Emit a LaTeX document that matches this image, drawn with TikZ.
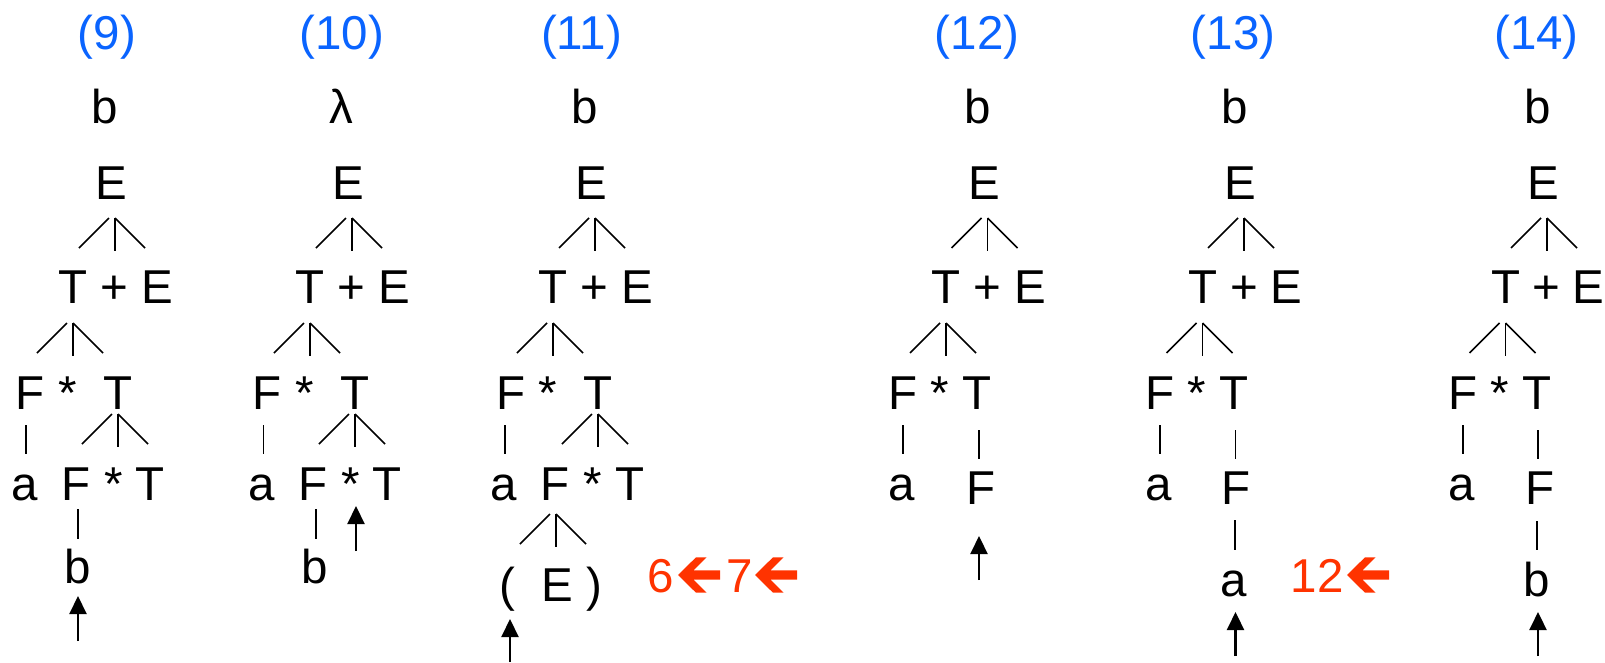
\documentclass[tikz,border=0pt]{standalone}
\usepackage{fontspec}
\setmainfont{Liberation Sans}
\usetikzlibrary{arrows.meta,calc}
\definecolor{lblblue}{RGB}{10,100,255}
\definecolor{hotred}{RGB}{255,51,0}
\tikzset{
  sym/.style={font=\fontsize{47.5}{50}\selectfont, inner sep=0pt, outer sep=0pt, anchor=base},
  lbl/.style={sym, text=lblblue},
  rd/.style={sym, text=hotred},
  edge/.style={line width=1.6pt},
  ptr/.style={line width=2.2pt, -{Triangle[width=17pt,length=18pt]}},
}
\newcommand\fanlines[3]{%
  \draw[edge] ($(#1.base)+(#2-6,#3)$) -- ++(-30,30);
  \draw[edge] ($(#1.base)+(#2,#3)$) -- ++(0,33);
  \draw[edge] ($(#1.base)+(#2,#3)$) -- ++(30,30);
}
\newcommand\stem[4]{%
  \draw[edge] ($(#1.base)+(#2,#3)$) -- ++(0,#4);
}
\newcommand\redarrow[1]{%
  \fill[hotred] (#1) -- ++(18,-17.7) -- ++(10.5,0) -- ++(-13.1,13.1) -- ++(26.6,0)
    -- ++(0,9.2) -- ++(-26.6,0) -- ++(13.1,13.1) -- ++(-10.5,0) -- cycle;
}
\begin{document}
\begin{tikzpicture}[x=1pt,y=-1pt]
\fill[white] (0,0) rectangle (1605,662);
\useasboundingbox (0,0) rectangle (1605,662);

% ---------- tree 9
\node[lbl] (l9) at (107,49) {(9)};
\node[sym] (in9) at (105,123) {b};
\node[sym] (e9) at (111,199) {E};
\node[sym] (t9) at (73,303) {T};
\node[sym] (p9) at (114,303) {+};
\node[sym] (ee9) at (157,303) {E};
\node[sym] (f9) at (30.5,409) {F};
\node[sym] (s9) at (68,409) {*};
\node[sym] (tt9) at (118,409) {T};
\node[sym] (a9) at (24.5,500) {a};
\node[sym] (ff9) at (76,500) {F};
\node[sym] (ss9) at (114,500) {*};
\node[sym] (ttt9) at (150,500) {T};
\node[sym] (b9) at (77.5,583) {b};
\fanlines{e9}{4}{19}
\fanlines{t9}{0}{20}
\fanlines{tt9}{0}{5}
\stem{f9}{-4.5}{16}{29}
\stem{ff9}{2}{9}{30}
\coordinate (q9) at (78,641);
\coordinate (r9) at (78,596);
\draw[ptr] (q9) -- (r9);

% ---------- tree 10
\node[lbl] (l10) at (342,49) {(10)};
\node[sym] (in10) at (341,123) {λ};
\node[sym] (e10) at (348,199) {E};
\node[sym] (t10) at (310,303) {T};
\node[sym] (p10) at (351,303) {+};
\node[sym] (ee10) at (394,303) {E};
\node[sym] (f10) at (267.5,409) {F};
\node[sym] (s10) at (305,409) {*};
\node[sym] (tt10) at (355,409) {T};
\node[sym] (a10) at (261.5,500) {a};
\node[sym] (ff10) at (313,500) {F};
\node[sym] (ss10) at (351,500) {*};
\node[sym] (ttt10) at (387,500) {T};
\node[sym] (b10) at (314.5,583) {b};
\fanlines{e10}{4}{19}
\fanlines{t10}{0}{20}
\fanlines{tt10}{0}{5}
\stem{f10}{-4.2}{16}{29}
\stem{ff10}{2.7}{9}{30}
\coordinate (q10) at (356,551);
\coordinate (r10) at (356,506);
\draw[ptr] (q10) -- (r10);

% ---------- tree 11
\node[lbl] (l11) at (581.5,49) {(11)};
\node[sym] (in11) at (585,123) {b};
\node[sym] (e11) at (591,199) {E};
\node[sym] (t11) at (553,303) {T};
\node[sym] (p11) at (594,303) {+};
\node[sym] (ee11) at (637,303) {E};
\node[sym] (f11) at (510.5,409) {F};
\node[sym] (s11) at (548,409) {*};
\node[sym] (tt11) at (598,409) {T};
\node[sym] (a11) at (504,500) {a};
\node[sym] (ff11) at (554.5,500) {F};
\node[sym] (ss11) at (593,500) {*};
\node[sym] (ttt11) at (629.5,500) {T};
\node[sym] (lp11) at (507,601) {(};
\node[sym] (eee11) at (557.5,601) {E};
\node[sym] (rp11) at (594,601) {)};
\fanlines{e11}{4}{19}
\fanlines{t11}{0}{20}
\fanlines{tt11}{0}{5}
\fanlines{ff11}{1.5}{14}
\stem{f11}{-5.5}{16}{29}
\coordinate (q11) at (510,662);
\coordinate (r11) at (510,619);
\draw[ptr] (q11) -- (r11);
\node[rd] (n6) at (661,592) {6};
\coordinate (ra6) at (678,575);
\redarrow{ra6}
\node[rd] (n7) at (739.5,592) {7};
\coordinate (ra7) at (755,575);
\redarrow{ra7}

% ---------- tree 12
\node[lbl] (l12) at (977,49) {(12)};
\node[sym] (in12) at (978,123) {b};
\node[sym] (e12) at (984,199) {E};
\node[sym] (t12) at (946,303) {T};
\node[sym] (p12) at (987,303) {+};
\node[sym] (ee12) at (1030,303) {E};
\node[sym] (f12) at (903,409) {F};
\node[sym] (s12) at (940,409) {*};
\node[sym] (tt12) at (977,409) {T};
\node[sym] (a12) at (902,500) {a};
\node[sym] (ff12) at (980.5,504) {F};
\fanlines{e12}{3.5}{19}
\fanlines{t12}{0}{20}
\stem{f12}{0}{16}{29}
\stem{tt12}{2}{21}{29}
\coordinate (q12) at (979,580);
\coordinate (r12) at (979,536);
\draw[ptr] (q12) -- (r12);

% ---------- tree 13
\node[lbl] (l13) at (1233,49) {(13)};
\node[sym] (in13) at (1235,123) {b};
\node[sym] (e13) at (1240.5,199) {E};
\node[sym] (t13) at (1202.5,303) {T};
\node[sym] (p13) at (1244,303) {+};
\node[sym] (ee13) at (1286.5,303) {E};
\node[sym] (f13) at (1159.5,409) {F};
\node[sym] (s13) at (1197,409) {*};
\node[sym] (tt13) at (1234,409) {T};
\node[sym] (a13) at (1159,500) {a};
\node[sym] (ff13) at (1236,504) {F};
\node[sym] (aa13) at (1233.5,596) {a};
\fanlines{e13}{3.5}{19}
\fanlines{t13}{0}{20}
\stem{f13}{0.5}{16}{29}
\stem{tt13}{1.5}{21}{29}
\stem{ff13}{-1}{16}{30}
\coordinate (q13) at (1235.5,656);
\coordinate (r13) at (1235.5,612);
\draw[ptr] (q13) -- (r13);
\node[rd] (n12) at (1317,592) {12};
\coordinate (ra12) at (1347,575);
\redarrow{ra12}

% ---------- tree 14
\node[lbl] (l14) at (1536.5,49) {(14)};
\node[sym] (in14) at (1537.5,123) {b};
\node[sym] (e14) at (1543.5,199) {E};
\node[sym] (t14) at (1505.5,303) {T};
\node[sym] (p14) at (1546.5,303) {+};
\node[sym] (ee14) at (1588.5,303) {E};
\node[sym] (f14) at (1462.5,409) {F};
\node[sym] (s14) at (1500,409) {*};
\node[sym] (tt14) at (1537,409) {T};
\node[sym] (a14) at (1462,500) {a};
\node[sym] (ff14) at (1540,504) {F};
\node[sym] (bb14) at (1536.5,596) {b};
\fanlines{e14}{3.5}{19}
\fanlines{t14}{0}{20}
\stem{f14}{0.5}{16}{29}
\stem{tt14}{1}{21}{29}
\stem{ff14}{-3}{17}{29}
\coordinate (q14) at (1538,656);
\coordinate (r14) at (1538,612);
\draw[ptr] (q14) -- (r14);
\end{tikzpicture}
\end{document}
